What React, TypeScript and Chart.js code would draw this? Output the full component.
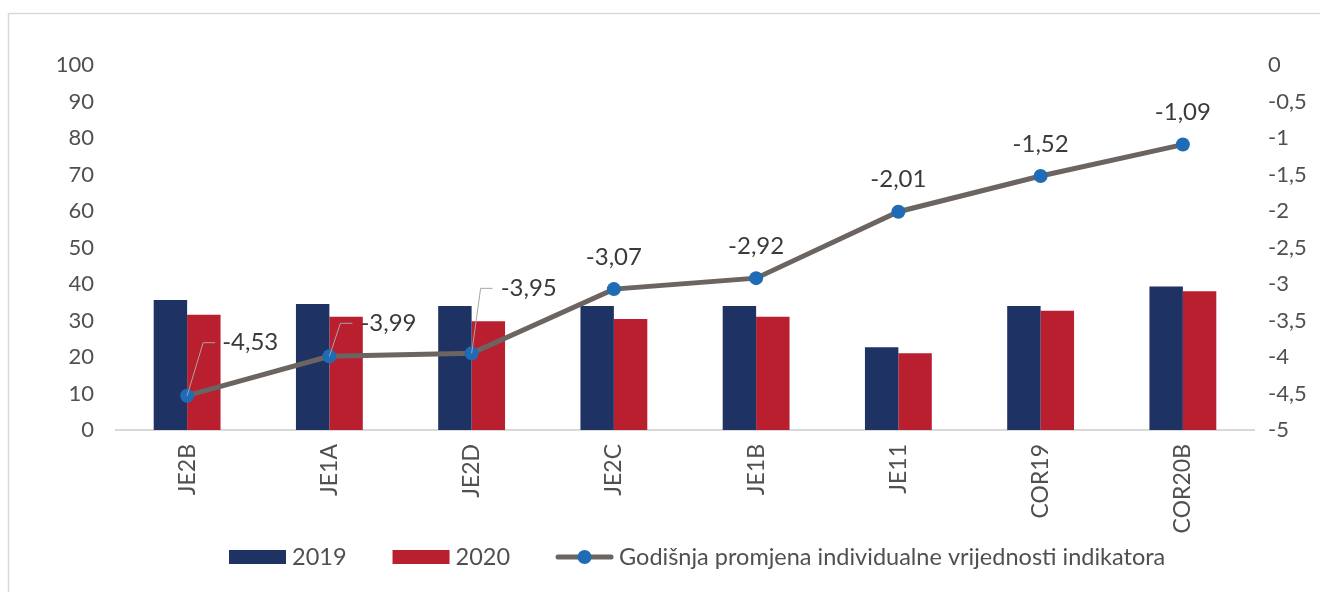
import React, { useEffect, useRef } from 'react';
import { Chart, registerables } from 'chart.js';

Chart.register(...registerables);

const categories = ['JE2B', 'JE1A', 'JE2D', 'JE2C', 'JE1B', 'JE11', 'COR19', 'COR20B'];
const values2019 = [35.6, 34.5, 34.0, 34.0, 34.0, 22.7, 34.0, 39.3];
const values2020 = [31.6, 31.0, 29.8, 30.4, 31.0, 21.0, 32.7, 38.0];
const changes = [-4.53, -3.99, -3.95, -3.07, -2.92, -2.01, -1.52, -1.09];
const seriesNames = ['2019', '2020', 'Godišnja promjena individualne vrijednosti indikatora'];

// label placement styles: null = centered above; otherwise leader-line offsets
const labelLeaders: ({ cx: number; cy: number; ex: number; tx: number } | null)[] = [
  { cx: 16, cy: -53, ex: 28, tx: 35 },
  { cx: 11, cy: -33, ex: 23, tx: 31 },
  { cx: 9, cy: -65, ex: 21, tx: 29 },
  null, null, null, null, null,
];

const FONT = "Lato, 'Open Sans', sans-serif";
const NAVY = '#1F3264';
const RED = '#BA1F2F';
const LINE = '#6B6461';
const DOT = '#1F6BB5';
const TEXT = '#505050';
const LABEL = '#3A3A3A';

const fmt = (v: number) => String(v).replace('.', ',');

const framePlugin = {
  id: 'frame',
  beforeDraw(chart: any) {
    const ctx = chart.ctx;
    ctx.save();
    ctx.fillStyle = '#ffffff';
    ctx.fillRect(0, 0, chart.width, chart.height);
    ctx.strokeStyle = '#D9D9D9';
    ctx.lineWidth = 1.5;
    ctx.strokeRect(8.5, 13.5, chart.width + 50, chart.height + 50);
    ctx.restore();
  },
};

const labelPlugin = {
  id: 'pointLabels',
  afterDatasetsDraw(chart: any) {
    const ctx = chart.ctx;
    const meta = chart.getDatasetMeta(2);
    ctx.save();
    ctx.font = `24px ${FONT}`;
    ctx.fillStyle = LABEL;
    meta.data.forEach((pt: any, i: number) => {
      const txt = fmt(changes[i]);
      const lead = labelLeaders[i];
      if (lead) {
        ctx.strokeStyle = '#A6A6A6';
        ctx.lineWidth = 1;
        ctx.beginPath();
        ctx.moveTo(pt.x, pt.y);
        ctx.lineTo(pt.x + lead.cx, pt.y + lead.cy);
        ctx.lineTo(pt.x + lead.ex, pt.y + lead.cy);
        ctx.stroke();
        ctx.textAlign = 'left';
        ctx.textBaseline = 'middle';
        ctx.fillText(txt, pt.x + lead.tx, pt.y + lead.cy);
      } else {
        ctx.textAlign = 'center';
        ctx.textBaseline = 'middle';
        ctx.fillText(txt, pt.x, pt.y - 32);
      }
    });
    ctx.restore();
  },
};

const legendPlugin = {
  id: 'customLegend',
  afterDraw(chart: any) {
    const ctx = chart.ctx;
    ctx.save();
    ctx.font = `23.5px ${FONT}`;
    ctx.textBaseline = 'middle';
    ctx.textAlign = 'left';
    const y = 557;
    const boxW = 57;
    const gap = 6;
    const itemGap = 46;
    let x = 229;
    // 2019
    ctx.fillStyle = NAVY;
    ctx.fillRect(x, y - 7, boxW, 14);
    x += boxW + gap;
    ctx.fillStyle = TEXT;
    ctx.fillText(seriesNames[0], x, y);
    x += ctx.measureText(seriesNames[0]).width + itemGap;
    // 2020
    ctx.fillStyle = RED;
    ctx.fillRect(x, y - 7, boxW, 14);
    x += boxW + gap;
    ctx.fillStyle = TEXT;
    ctx.fillText(seriesNames[1], x, y);
    x += ctx.measureText(seriesNames[1]).width + itemGap;
    // line
    ctx.strokeStyle = LINE;
    ctx.lineWidth = 5;
    ctx.lineCap = 'round';
    ctx.beginPath();
    ctx.moveTo(x + 2, y);
    ctx.lineTo(x + boxW - 2, y);
    ctx.stroke();
    ctx.fillStyle = DOT;
    ctx.beginPath();
    ctx.arc(x + boxW / 2, y, 7, 0, Math.PI * 2);
    ctx.fill();
    x += boxW + gap;
    ctx.fillStyle = TEXT;
    ctx.fillText(seriesNames[2], x, y);
    ctx.restore();
  },
};

export default function App() {
  const ref = useRef<HTMLCanvasElement | null>(null);
  useEffect(() => {
    if (!ref.current) return;
    const chart = new Chart(ref.current, {
      type: 'bar',
      data: {
        labels: categories,
        datasets: [
          {
            type: 'bar',
            label: seriesNames[0],
            data: values2019,
            backgroundColor: NAVY,
            yAxisID: 'y',
            order: 2,
            categoryPercentage: 0.47,
            barPercentage: 1,
          },
          {
            type: 'bar',
            label: seriesNames[1],
            data: values2020,
            backgroundColor: RED,
            yAxisID: 'y',
            order: 2,
            categoryPercentage: 0.47,
            barPercentage: 1,
          },
          {
            type: 'line',
            label: seriesNames[2],
            data: changes,
            borderColor: LINE,
            borderWidth: 5,
            pointRadius: 7,
            pointBackgroundColor: DOT,
            pointBorderWidth: 0,
            yAxisID: 'y1',
            order: 0,
            tension: 0,
          } as any,
        ],
      },
      options: {
        responsive: false,
        animation: false,
        devicePixelRatio: 1,
        layout: { padding: { left: 0, right: 0, top: 65, bottom: 42 } },
        plugins: {
          legend: { display: false },
          tooltip: { enabled: false },
        },
        scales: {
          x: {
            grid: { display: false, drawTicks: false },
            border: { display: true, color: '#D9D9D9', width: 2 },
            ticks: {
              color: TEXT,
              font: { family: FONT, size: 23 },
              minRotation: 90,
              maxRotation: 90,
              padding: 14,
            },
            afterFit: (s: any) => { s.height = 120; },
          },
          y: {
            position: 'left',
            min: 0,
            max: 100,
            grid: { display: false, drawTicks: false },
            border: { display: false },
            ticks: {
              stepSize: 10,
              color: TEXT,
              font: { family: FONT, size: 22 },
              padding: 22,
            },
            afterFit: (s: any) => { s.width = 116; },
          },
          y1: {
            position: 'right',
            min: -5,
            max: 0,
            grid: { display: false, drawTicks: false },
            border: { display: false },
            ticks: {
              stepSize: 0.5,
              color: TEXT,
              font: { family: FONT, size: 22 },
              padding: 14,
              callback: (v: any) => fmt(Number(v)),
            },
            afterFit: (s: any) => { s.width = 66; },
          },
        },
      },
      plugins: [framePlugin, labelPlugin, legendPlugin],
    });
    return () => chart.destroy();
  }, []);
  return (
    <div style={{ position: 'absolute', left: 0, top: 0, width: 1320, height: 592, background: '#fff' }}>
      <canvas ref={ref} width={1320} height={592} style={{ display: 'block', width: 1320, height: 592 }} />
    </div>
  );
}
